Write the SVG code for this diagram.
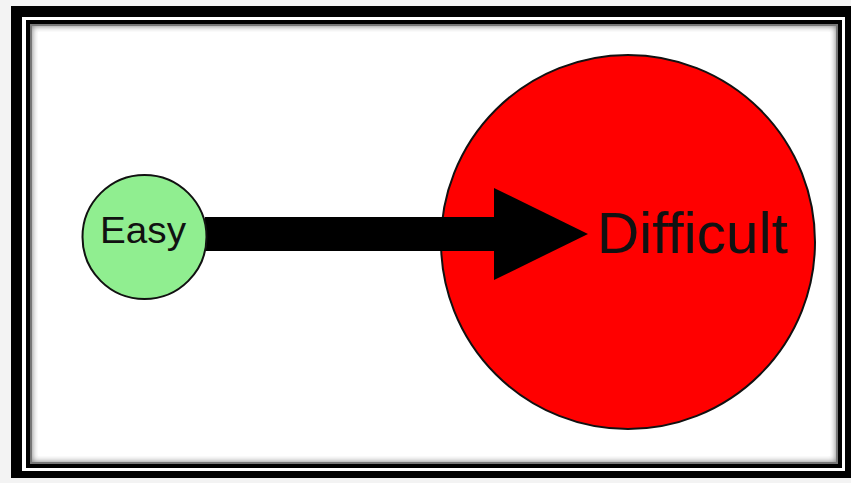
<svg xmlns="http://www.w3.org/2000/svg" width="851" height="483" viewBox="0 0 851 483">
  <defs>
    <filter id="inshadow" x="0" y="0" width="1" height="1">
      <feGaussianBlur stdDeviation="3"/>
    </filter>
    <marker id="head" markerUnits="userSpaceOnUse" markerWidth="100" markerHeight="100" refX="0" refY="46" orient="auto">
      <path d="M0,0 L94,46 L0,92 Z" fill="#000"/>
    </marker>
  </defs>
  <style>
    .node { stroke: #111; stroke-width: 2; }
    .label { font-family: "Liberation Sans", Arial, sans-serif; fill: #111; }
  </style>
  <rect x="0" y="0" width="851" height="483" fill="#f3f3f3"/>
  <g id="frame">
    <rect x="11" y="6" width="840" height="472" fill="#000"/>
    <rect x="22" y="17" width="823" height="454" fill="#fff"/>
    <rect x="26" y="20" width="816" height="448" fill="#000"/>
    <rect x="30" y="24" width="808" height="440" fill="#777"/>
    <rect x="32" y="26" width="804" height="436" fill="#fff" filter="url(#inshadow)"/>
    <rect x="38" y="32" width="792" height="424" fill="#fff"/>
  </g>
  <g id="difficult">
    <circle class="node" cx="628" cy="242" r="187" fill="#ff0000"/>
  </g>
  <g id="connectors">
    <line x1="205" y1="234" x2="494" y2="234" stroke="#000" stroke-width="34" marker-end="url(#head)"/>
  </g>
  <g id="difficult-label">
    <text class="label" x="597" y="253" font-size="57" textLength="191" lengthAdjust="spacingAndGlyphs">Difficult</text>
  </g>
  <g id="easy">
    <circle class="node" cx="144.5" cy="237" r="62" fill="#90ee90"/>
    <text class="label" x="100" y="243" font-size="36" textLength="86" lengthAdjust="spacingAndGlyphs">Easy</text>
  </g>
</svg>
